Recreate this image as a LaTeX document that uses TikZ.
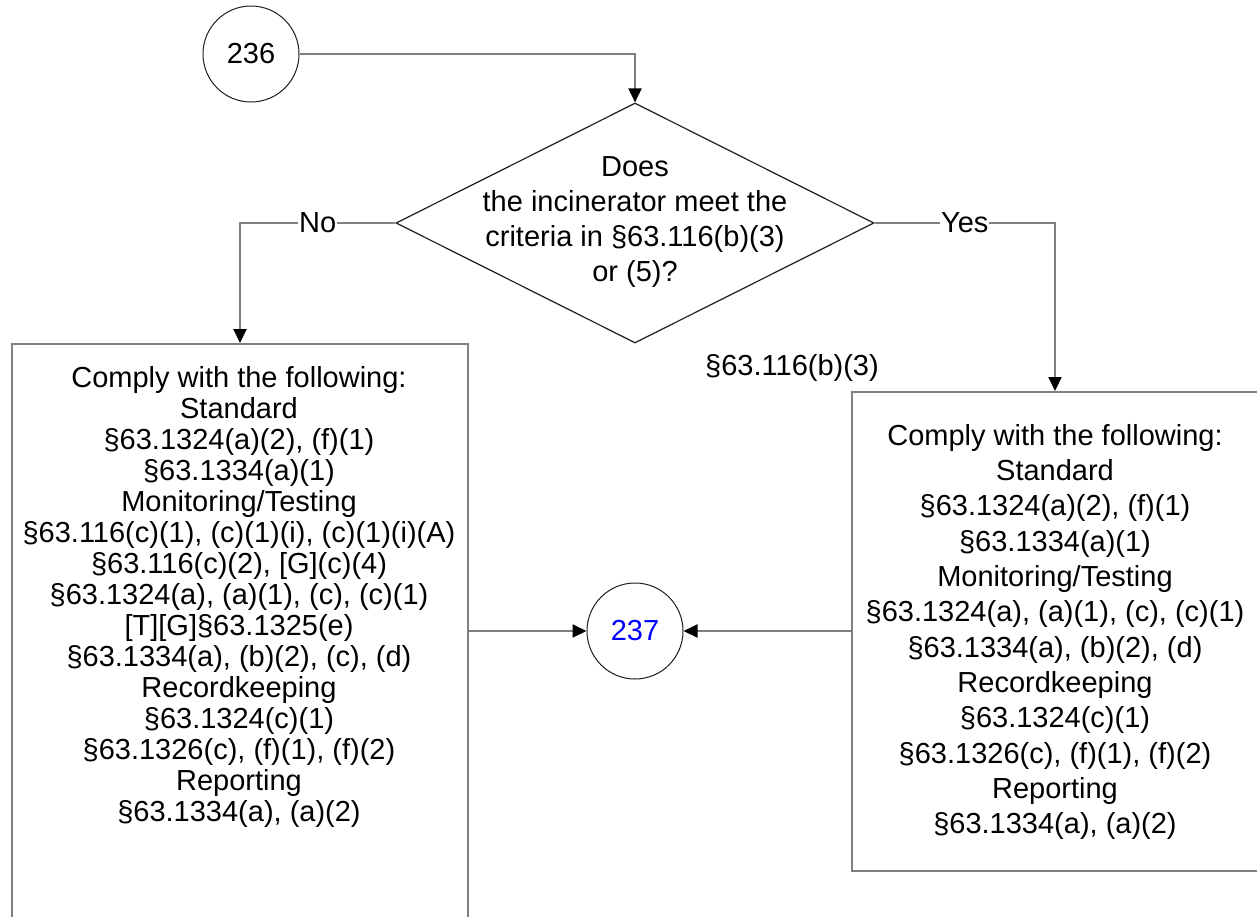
\documentclass[tikz,border=0pt]{standalone}
\usepackage{fontspec}
\setmainfont{Liberation Sans}
\usetikzlibrary{arrows.meta,shapes.geometric}
\definecolor{conngray}{RGB}{128,128,128}
\definecolor{outl}{RGB}{30,30,30}
\definecolor{numblue}{RGB}{0,0,255}
\begin{document}
\begin{tikzpicture}[x=1pt,y=-1pt,
  txt/.style={font=\fontsize{29}{31}\selectfont, align=center, inner sep=0pt},
  widetxt/.style={font=\fontsize{29}{35.3}\selectfont, align=center, inner sep=0pt},
  conn/.style={draw=conngray, line width=2pt},
  tip/.style={-{Triangle[length=14pt,width=13pt,color=black]}},
  lbl/.style={txt, fill=white, inner sep=1pt},
  conncircle/.style={circle, draw=outl, line width=1pt, minimum size=96pt, inner sep=0pt, txt},
  boxshape/.style={draw=conngray, line width=2pt, anchor=north west, inner sep=0pt}
]
\useasboundingbox (0,0) rectangle (1257,916);

% shapes
\node[conncircle] (c236) at (251,54) {236};
\node[diamond, draw=outl, line width=1.2pt, minimum width=478pt, minimum height=240pt, inner sep=0pt] (dec) at (635,223) {};
\node[widetxt] (dectxt) at (635,222) {Does\\the incinerator meet the\\criteria in §63.116(b)(3)\\or (5)?};

\node[boxshape, minimum width=456pt, minimum height=590pt] (lbox) at (11,343) {};
\node[txt] (ltxt) at (239,597) {Comply with the following:\\Standard\\§63.1324(a)(2), (f)(1)\\§63.1334(a)(1)\\Monitoring/Testing\\§63.116(c)(1), (c)(1)(i), (c)(1)(i)(A)\\§63.116(c)(2), [G](c)(4)\\§63.1324(a), (a)(1), (c), (c)(1)\\{}[T][G]§63.1325(e)\\§63.1334(a), (b)(2), (c), (d)\\Recordkeeping\\§63.1324(c)(1)\\§63.1326(c), (f)(1), (f)(2)\\Reporting\\§63.1334(a), (a)(2)};

\node[boxshape, minimum width=410pt, minimum height=479pt] (rbox) at (851,391) {};
\node[widetxt] (rtxt) at (1055,632) {Comply with the following:\\Standard\\§63.1324(a)(2), (f)(1)\\§63.1334(a)(1)\\Monitoring/Testing\\§63.1324(a), (a)(1), (c), (c)(1)\\§63.1334(a), (b)(2), (d)\\Recordkeeping\\§63.1324(c)(1)\\§63.1326(c), (f)(1), (f)(2)\\Reporting\\§63.1334(a), (a)(2)};

\node[conncircle, text=numblue] (c237) at (635,631) {237};

\node[txt] (note) at (792,368) {§63.116(b)(3)};

% connectors
\coordinate (nobend) at (240,223);
\coordinate (yesbend) at (1055,223);
\draw[conn,tip] (c236.east) -| (dec.north);
\draw[conn,tip] (dec.west) -- node[lbl] {No} (nobend) -- (nobend |- lbox.north);
\draw[conn,tip] (dec.east) -- node[lbl] {Yes} (yesbend) -- (yesbend |- rbox.north);
\draw[conn,tip] (lbox.east |- c237) -- (c237.west);
\draw[conn,tip] (rbox.west |- c237) -- (c237.east);
\end{tikzpicture}
\end{document}
